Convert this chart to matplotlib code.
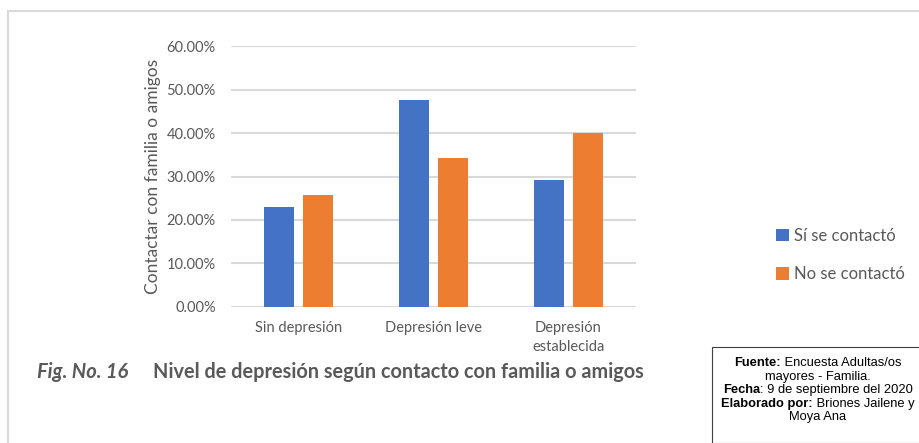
import matplotlib.pyplot as plt
import numpy as np
from matplotlib.patches import Rectangle
from matplotlib.ticker import PercentFormatter

plt.rcParams['font.family'] = ['Lato', 'DejaVu Sans']

categorias = ["Sin depresión", "Depresión leve", "Depresión\nestablecida"]
si_contacto = [23.08, 47.62, 29.17]
no_contacto = [25.71, 34.29, 40.00]
series = ["Sí se contactó", "No se contactó"]
colores = ["#4472C4", "#ED7D31"]
gris = "#595959"

W, H = 919, 443
fig = plt.figure(figsize=(W / 100, H / 100), dpi=100)

# axes placed in pixel coordinates
x0, x1, y0, y1 = 231, 636, 306.7, 46.3
ax = fig.add_axes([x0 / W, 1 - y0 / H, (x1 - x0) / W, (y0 - y1) / H])

x = np.arange(len(categorias))
bw, gap = 0.222, 0.067
ax.bar(x - (bw + gap) / 2, si_contacto, bw, color=colores[0], label=series[0], zorder=3)
ax.bar(x + (bw + gap) / 2, no_contacto, bw, color=colores[1], label=series[1], zorder=3)

ax.set_xlim(-0.5, len(categorias) - 0.5)
ax.set_ylim(0, 60)
ax.set_yticks(np.arange(0, 61, 10))
ax.yaxis.set_major_formatter(PercentFormatter(decimals=2))
ax.grid(axis='y', color='#d9d9d9', linewidth=1.5, zorder=0)
ax.set_axisbelow(True)
for s in ax.spines.values():
    s.set_visible(False)
ax.tick_params(axis='both', length=0, colors=gris, labelsize=10.5)
ax.tick_params(axis='y', pad=11)
ax.tick_params(axis='x', pad=10)
ax.set_xticks(x)
ax.set_xticklabels(categorias, linespacing=1.5)
ax.set_ylabel("Contactar con familia o amigos", color=gris, fontsize=12.5, labelpad=4)

ax.legend(loc='center left', bbox_to_anchor=(761 / W, 1 - 255 / H),
          bbox_transform=fig.transFigure, frameon=False, fontsize=12,
          handlelength=0.75, handleheight=0.75, handletextpad=0.3,
          labelspacing=1.35, labelcolor=gris)

# outer frame of the chart area
fig.add_artist(plt.Line2D([8 / W, 918 / W], [1 - 11 / H, 1 - 11 / H],
                          color='#d9d9d9', linewidth=1.5, transform=fig.transFigure))
fig.add_artist(plt.Line2D([8 / W, 8 / W], [1 - 11 / H, 0],
                          color='#d9d9d9', linewidth=1.5, transform=fig.transFigure))

# caption
fig.text(37 / W, 1 - 372 / H, "Fig. No. 16", fontsize=14.5, style='italic',
         weight='bold', color=gris, va='center')
fig.text(153 / W, 1 - 372 / H, "Nivel de depresión según contacto con familia o amigos",
         fontsize=14.3, weight='bold', color=gris, va='center')

# source box
fig.add_artist(Rectangle((712 / W, 0), 260 / W, (H - 347) / H, transform=fig.transFigure,
                         fill=False, edgecolor='#404040', linewidth=0.8))
fuente = [("Fuente:", " Encuesta Adultas/os"), ("", "mayores - Familia."),
          ("Fecha", ": 9 de septiembre del 2020"), ("Elaborado por:", " Briones Jailene y"),
          ("", "Moya Ana")]
narrow = ['Liberation Sans Narrow', 'Liberation Sans', 'DejaVu Sans']
r = fig.canvas.get_renderer()
for i, (b, t) in enumerate(fuente):
    yy = 1 - (363 + i * 13.6) / H
    tb = fig.text(0, yy, b, fontsize=9.3, weight='bold', family=narrow, va='center')
    tt = fig.text(0, yy, t, fontsize=9.3, family=narrow, va='center')
    wb = tb.get_window_extent(r).width if b else 0
    wt = tt.get_window_extent(r).width
    start = 818 - (wb + wt) / 2
    tb.set_x(start / W)
    tt.set_x((start + wb) / W)

fig.savefig("out.png", dpi=100)
